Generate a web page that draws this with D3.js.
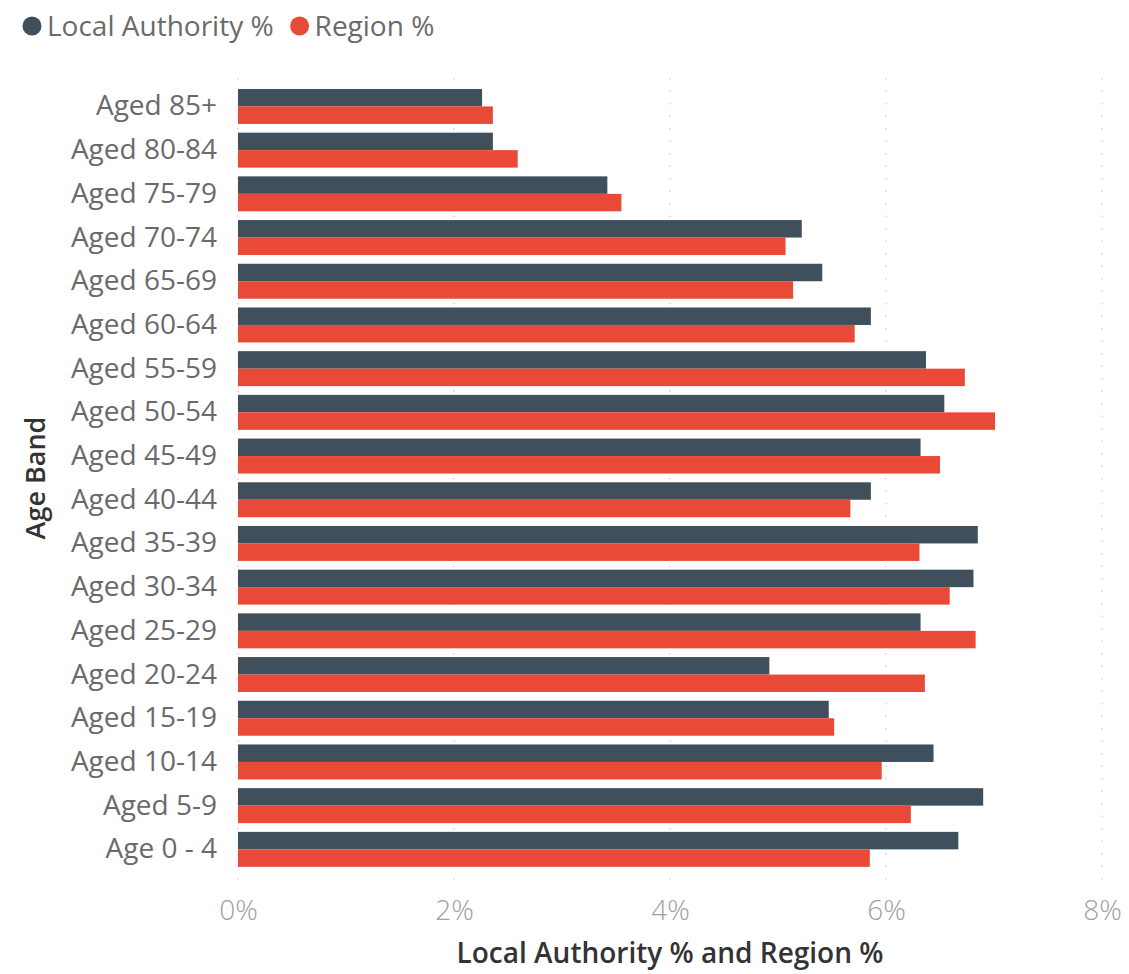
<!DOCTYPE html>
<html>
<head>
<meta charset="utf-8">
<script src="https://cdn.jsdelivr.net/npm/d3@7"></script>
<style>
  html, body { margin: 0; padding: 0; background: #fff; }
  svg { display: block; font-family: "Open Sans", "Noto Sans", sans-serif; }
</style>
</head>
<body>
<svg id="chart" width="1129" height="974"></svg>
<script>
// Age bands, top to bottom
const ageBands = [
  "Aged 85+", "Aged 80-84", "Aged 75-79", "Aged 70-74", "Aged 65-69",
  "Aged 60-64", "Aged 55-59", "Aged 50-54", "Aged 45-49", "Aged 40-44",
  "Aged 35-39", "Aged 30-34", "Aged 25-29", "Aged 20-24", "Aged 15-19",
  "Aged 10-14", "Aged 5-9", "Age 0 - 4"
];
const seriesNames = ["Local Authority %", "Region %"];
// Share of population in each band (%)
const localAuthorityPct = [
  2.26, 2.36, 3.42, 5.22, 5.41,
  5.86, 6.37, 6.54, 6.32, 5.86,
  6.85, 6.81, 6.32, 4.92, 5.47,
  6.44, 6.90, 6.67
];
const regionPct = [
  2.36, 2.59, 3.55, 5.07, 5.14,
  5.71, 6.73, 7.01, 6.50, 5.67,
  6.31, 6.59, 6.83, 6.36, 5.52,
  5.96, 6.23, 5.85
];
const xTicks = [0, 2, 4, 6, 8];
const seriesColors = ["#404f5c", "#e84a37"];

const svg = d3.select("#chart");
const margin = { left: 238, right: 27, top: 84.6, bottom: 102.8 };
const W = 1129, H = 974;

const x = d3.scaleLinear().domain([0, 8]).range([margin.left, W - margin.right]);
const y = d3.scaleBand().domain(ageBands)
  .range([margin.top, H - margin.bottom]).paddingInner(0.2).paddingOuter(0.1);
const ySub = d3.scaleBand().domain(seriesNames).range([0, y.bandwidth()]);

// Dotted vertical gridlines
svg.append("g").selectAll("line").data(xTicks).join("line")
  .attr("x1", d => x(d)).attr("x2", d => x(d))
  .attr("y1", 78).attr("y2", 886)
  .attr("stroke", "#c8c8c8").attr("stroke-width", 1.2)
  .attr("stroke-dasharray", "1.5,11");

// Bars
const rows = ageBands.map((band, i) => ({ band, values: [localAuthorityPct[i], regionPct[i]] }));
const groups = svg.append("g").selectAll("g").data(rows).join("g")
  .attr("transform", d => `translate(0,${y(d.band)})`);
groups.selectAll("rect").data(d => d.values.map((v, j) => ({ v, s: seriesNames[j], j })))
  .join("rect")
  .attr("x", x(0))
  .attr("y", d => ySub(d.s))
  .attr("width", d => x(d.v) - x(0))
  .attr("height", ySub.bandwidth())
  .attr("fill", d => seriesColors[d.j]);

// X axis tick labels
const xAxis = d3.axisBottom(x).tickValues(xTicks).tickFormat(d => d + "%").tickSize(0).tickPadding(0);
svg.append("g").attr("transform", `translate(0,${H - margin.bottom})`).call(xAxis)
  .call(g => g.select(".domain").remove())
  .selectAll("text")
  .attr("dy", "0").attr("y", 49)
  .attr("font-size", 28).attr("font-weight", 300)
  .attr("fill", "#a0a0a0").attr("font-family", "'Open Sans', sans-serif");

// Y axis category labels
const yAxis = d3.axisLeft(y).tickSize(0).tickPadding(21);
svg.append("g").attr("transform", `translate(${margin.left},0)`).call(yAxis)
  .call(g => g.select(".domain").remove())
  .selectAll("text")
  .attr("font-size", 28)
  .attr("fill", "#6a6a6a").attr("font-family", "'Open Sans', sans-serif");

// Axis titles
svg.append("text")
  .attr("x", 670).attr("y", 963)
  .attr("text-anchor", "middle")
  .attr("font-size", 28).attr("font-weight", 600).attr("fill", "#333")
  .text("Local Authority % and Region %");
svg.append("text")
  .attr("transform", "translate(45,478) rotate(-90)")
  .attr("text-anchor", "middle")
  .attr("font-size", 27).attr("font-weight", 600).attr("fill", "#333")
  .text("Age Band");

// Legend
const legend = svg.append("g");
let lx = 32;
seriesNames.forEach((name, i) => {
  legend.append("circle").attr("cx", lx).attr("cy", 26).attr("r", 9.5).attr("fill", seriesColors[i]);
  const t = legend.append("text")
    .attr("x", lx + 15).attr("y", 36)
    .attr("font-size", 28).attr("fill", "#6a6a6a")
    .text(name);
  lx += 15 + t.node().getComputedTextLength() + 26;
});
</script>
</body>
</html>
